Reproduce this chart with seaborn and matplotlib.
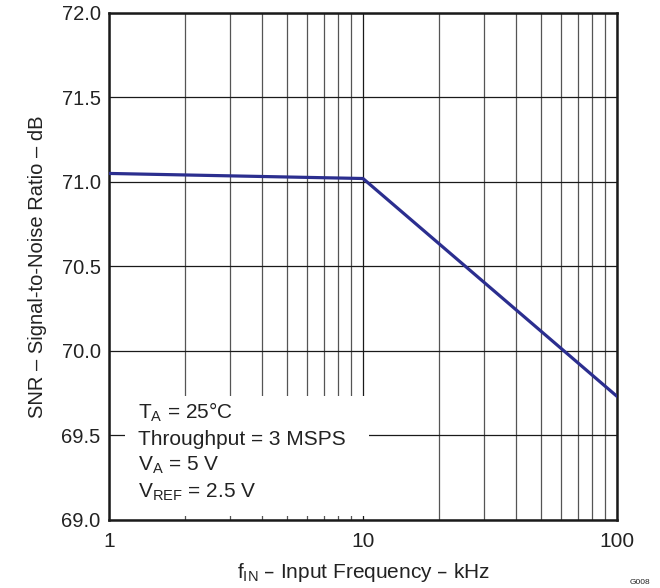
import matplotlib
matplotlib.use('Agg')
import matplotlib.pyplot as plt
from matplotlib.ticker import LogLocator, FixedLocator, FixedFormatter, NullFormatter
import seaborn as sns
import pandas as pd

freq_khz = [1, 10, 100]
snr_db = [71.05, 71.02, 69.73]
y_ticks = [69.0, 69.5, 70.0, 70.5, 71.0, 71.5, 72.0]
x_ticks = [1, 10, 100]
x_labels = ['1', '10', '100']
notes = ['$\\mathregular{T_A}$ = 25°C', 'Throughput = 3 MSPS',
         '$\\mathregular{V_A}$ = 5 V', '$\\mathregular{V_{REF}}$ = 2.5 V']

sns.set_style('white')
plt.rcParams['font.family'] = ['Liberation Sans', 'DejaVu Sans']
txt = '#222222'
fs = 15

df = pd.DataFrame({'freq': freq_khz, 'snr': snr_db})

fig = plt.figure(figsize=(6.6, 5.88), dpi=100)
rect = [0.165, 0.116, 0.77, 0.862]
ax = fig.add_axes(rect)

sns.lineplot(data=df, x='freq', y='snr', ax=ax, color='#2b2e8f',
             linewidth=2.3, zorder=4)

ax.set_xscale('log')
ax.set_xlim(1, 100)
ax.set_ylim(69, 72)
ax.xaxis.set_major_locator(FixedLocator(x_ticks))
ax.xaxis.set_major_formatter(FixedFormatter(x_labels))
ax.xaxis.set_minor_locator(LogLocator(base=10, subs=range(2, 10)))
ax.xaxis.set_minor_formatter(NullFormatter())
ax.yaxis.set_major_locator(FixedLocator(y_ticks))
ax.set_yticklabels([f'{v:.1f}' for v in y_ticks])

ax.grid(which='major', axis='both', color='#1a1a1a', linewidth=0.9)
ax.grid(which='minor', axis='x', color='#555555', linewidth=0.9)
ax.tick_params(which='major', length=0, colors=txt)
ax.tick_params(axis='x', which='major', pad=9, labelsize=fs)
ax.tick_params(axis='y', which='major', pad=6, labelsize=14.5)
ax.tick_params(which='minor', length=0)

for s in ax.spines.values():
    s.set_linewidth(1.8)
    s.set_color('#1a1a1a')

ax.set_xlabel('$\\mathregular{f_{IN}}$ – Input Frequency – kHz', fontsize=fs,
              labelpad=7, color=txt)
ax.set_ylabel('SNR – Signal-to-Noise Ratio – dB', fontsize=14.5,
              labelpad=10, color=txt)

# white box behind the test conditions
ax.add_patch(plt.Rectangle((0.031, 0.008), 0.48, 0.237, transform=ax.transAxes,
                           facecolor='white', edgecolor='none', zorder=3))
for i, t in enumerate(notes):
    ax.text(0.057, 0.211 - i * 0.052, t, transform=ax.transAxes,
            fontsize=fs, va='center', ha='left', color=txt, zorder=5)

# overlay axes carrying only the inward minor ticks, so they sit on the box
top = fig.add_axes(rect, sharex=ax)
top.set_ylim(69, 72)
top.patch.set_visible(False)
for s in top.spines.values():
    s.set_visible(False)
top.tick_params(which='major', length=0, labelbottom=False, labelleft=False)
top.tick_params(which='minor', axis='x', direction='in', length=8,
                width=0.9, color='#444444', labelbottom=False)
top.set_yticks([])

fig.text(0.985, 0.004, 'G008', fontsize=6, color=txt, ha='right', va='bottom')

fig.savefig('out.png', dpi=100)
